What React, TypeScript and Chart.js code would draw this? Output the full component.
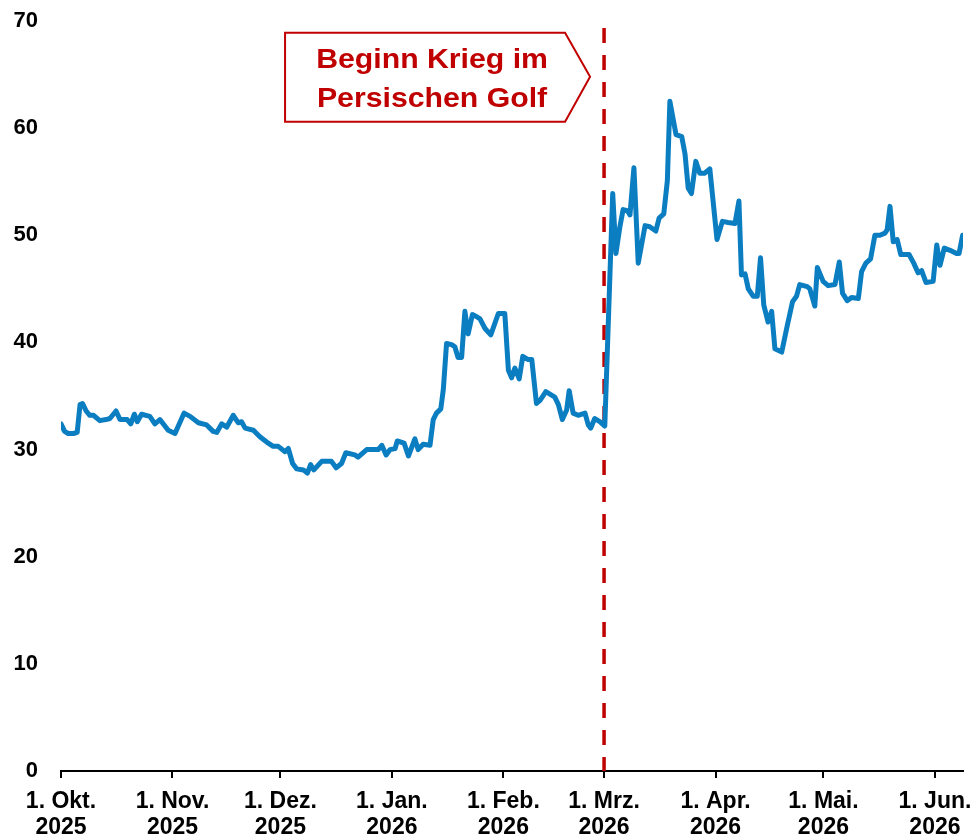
import React, { useEffect, useRef } from "react";
import { Chart, registerables } from "chart.js";

Chart.register(...registerables);

// days since 1 Oct 2025
const days: number[] = [
  0, 1, 2, 3.5, 4.5, 5.3, 6, 7, 8, 9, 10.8, 12.5, 13.6, 15.3, 16.4, 18.4, 19.4, 20.4, 21.2, 22.4,
  24.7, 26.1, 27.5, 29.8, 31.7, 34.2, 35.9, 38.2, 40.5, 42.3, 43.3, 44.7, 46.1, 47.9, 49.3, 50.2,
  51.2, 53.5, 55.3, 57.2, 59.0, 60.4, 62.3, 63.2, 64.4, 65.5, 67.4, 68.5, 69.4, 70.3, 72.5, 75.2,
  76.5, 78.0, 79.2, 81.7, 82.6, 85.0, 88.2, 89.2, 90.4, 91.5, 92.9, 93.5, 95.4, 96.6, 98.4, 99.3,
  100.7, 102.6, 103.5, 104.4, 105.6, 106.3, 107.2, 108.6, 109.5, 110.4, 111.4, 112.3, 113.2, 114.4,
  115.6, 116.5, 117.9, 119.5, 121.6, 123.4, 124.4, 125.3, 126.2, 127.4, 128.4, 129.9, 130.9, 132.2,
  133.2, 134.8, 137.3, 138.3, 139.4, 140.6, 141.3, 142.4, 143.8, 145.7, 146.6, 147.3, 148.4, 149.8,
  151.2, 153.4, 154.3, 155.4, 156.3, 157.5, 158.2, 159.3, 160.5, 162.4, 163.7, 165.4, 166.3, 167.6,
  168.6, 169.3, 171.0, 172.6, 173.5, 174.4, 175.3, 176.5, 177.6, 179.0, 180.4, 182.4, 183.9, 185.5,
  187.4, 188.5, 189.2, 190.2, 191.1, 192.5, 193.6, 194.5, 195.4, 196.6, 197.6, 198.5, 200.4, 201.9,
  203.4, 204.5, 205.4, 207.5, 208.2, 209.6, 210.3, 211.9, 213.3, 215.2, 216.4, 217.3, 218.6, 219.8,
  221.7, 222.6, 223.8, 225.1, 226.3, 227.7, 229.1, 229.7, 230.5, 231.4, 232.5, 233.5, 235.8, 237.1,
  238.3, 239.3, 240.5, 242.5, 243.5, 244.4, 245.6, 247.2, 249.0, 249.7, 250.7,
];

const values: number[] = [
  32.4, 31.7, 31.5, 31.5, 31.6, 34.2, 34.3, 33.6, 33.2, 33.2, 32.7, 32.8, 32.9, 33.6, 32.8, 32.8, 32.4, 33.3, 32.6, 33.3,
  33.1, 32.4, 32.8, 31.8, 31.5, 33.4, 33.1, 32.5, 32.3, 31.7, 31.6, 32.4, 32.1, 33.2, 32.5, 32.6,
  32.0, 31.8, 31.2, 30.7, 30.3, 30.3, 29.8, 30.1, 28.7, 28.2, 28.1, 27.8, 28.6, 28.1, 28.9, 28.9,
  28.3, 28.7, 29.7, 29.5, 29.3, 30.0, 30.0, 30.4, 29.5, 30.0, 30.1, 30.8, 30.6, 29.4, 31.0, 30.0,
  30.5, 30.4, 32.8, 33.4, 33.8, 35.6, 39.9, 39.8, 39.6, 38.6, 38.6, 42.9, 40.8, 42.6,
  42.4, 42.2, 41.3, 40.7, 42.7, 42.7, 37.4, 36.7, 37.6, 36.6, 38.7, 38.4, 38.4, 34.3,
  34.6, 35.4, 34.9, 34.2, 32.8, 33.7, 35.5, 33.4, 33.2, 33.4, 32.3, 32.0, 32.9, 32.6,
  32.2, 53.9, 48.3, 50.8, 52.4, 52.3, 51.9, 56.3, 47.4, 50.9, 50.8, 50.4, 51.6, 52.0,
  55.1, 62.5, 59.4, 59.2, 57.6, 54.4, 53.9, 56.9, 55.8, 55.8, 56.2, 49.6, 51.3, 51.2,
  51.1, 53.2, 46.3, 46.4, 45.0, 44.3, 44.3, 47.9, 43.5, 41.9, 42.9, 39.4, 39.1, 41.5,
  43.8, 44.3, 45.4, 45.2, 45.0, 43.4, 47.0, 45.7, 45.3, 45.4, 47.5, 44.6, 43.9, 44.2,
  44.1, 46.6, 47.4, 47.8, 50.0, 50.0, 50.2, 50.5, 52.7, 49.4, 49.6, 48.2, 48.2, 47.4,
  46.5, 46.7, 45.6, 45.7, 49.1, 47.2, 48.8, 48.6, 48.3, 48.3, 50.0,
];

// month-start tick positions (days since 1 Oct 2025) and labels
const tickDays: number[] = [0, 31, 61, 92, 123, 151, 182, 212, 243];
const tickLabels: string[][] = [
  ["1. Okt.", "2025"],
  ["1. Nov.", "2025"],
  ["1. Dez.", "2025"],
  ["1. Jan.", "2026"],
  ["1. Feb.", "2026"],
  ["1. Mrz.", "2026"],
  ["1. Apr.", "2026"],
  ["1. Mai.", "2026"],
  ["1. Jun.", "2026"],
];
const yTicks: number[] = [0, 10, 20, 30, 40, 50, 60, 70];
const warDay = 151;
const annotationLines: string[] = ["Beginn Krieg im", "Persischen Golf"];

const FONT = "'Liberation Sans', Arial, Helvetica, sans-serif";
const RED = "#C00000";
const BLUE = "#0B7DC1";

const overlayPlugin = {
  id: "overlay",
  beforeDatasetsDraw(chart: any) {
    const { ctx, chartArea, scales } = chart;
    const x = scales.x.getPixelForValue(warDay);
    ctx.save();
    ctx.strokeStyle = RED;
    ctx.lineWidth = 3.5;
    ctx.setLineDash([15, 12]);
    ctx.beginPath();
    ctx.moveTo(x, chartArea.top + 7);
    ctx.lineTo(x, chartArea.bottom);
    ctx.stroke();
    ctx.restore();
  },
  afterDatasetsDraw(chart: any) {
    const { ctx, scales } = chart;
    const xs = scales.x;
    const ys = scales.y;
    const tipX = xs.getPixelForValue(warDay) - 14;
    const tipY = ys.getPixelForValue(64.8);
    const top = ys.getPixelForValue(68.9);
    const bottom = ys.getPixelForValue(60.6);
    const left = xs.getPixelForValue(62.3);
    const rectRight = tipX - 25;
    ctx.save();
    ctx.fillStyle = "#ffffff";
    ctx.strokeStyle = RED;
    ctx.lineWidth = 2;
    ctx.setLineDash([]);
    ctx.beginPath();
    ctx.moveTo(left, top);
    ctx.lineTo(rectRight, top);
    ctx.lineTo(tipX, tipY);
    ctx.lineTo(rectRight, bottom);
    ctx.lineTo(left, bottom);
    ctx.closePath();
    ctx.fill();
    ctx.stroke();
    ctx.fillStyle = RED;
    ctx.font = `bold 27px ${FONT}`;
    ctx.textAlign = "center";
    ctx.textBaseline = "alphabetic";
    const cx = (left + rectRight) / 2 + 7;
    const lineOffsets = [35, 74];
    annotationLines.forEach((line, i) => {
      ctx.save();
      ctx.translate(cx, top + lineOffsets[i]);
      ctx.scale(1.12, 1);
      ctx.fillText(line, 0, 0);
      ctx.restore();
    });
    ctx.restore();
  },
};

export default function App() {
  const canvasRef = useRef<HTMLCanvasElement | null>(null);

  useEffect(() => {
    const canvas = canvasRef.current;
    if (!canvas) return;
    const chart = new Chart(canvas, {
      type: "line",
      data: {
        datasets: [
          {
            data: days.map((d, i) => ({ x: d, y: values[i] })),
            borderColor: BLUE,
            borderWidth: 5,
            pointRadius: 0,
            tension: 0,
            fill: false,
            borderJoinStyle: "round",
            borderCapStyle: "round",
          },
        ],
      },
      options: {
        animation: false,
        responsive: false,
        maintainAspectRatio: false,
        layout: { padding: { top: 21, right: 14, left: 0, bottom: 0 } },
        plugins: {
          legend: { display: false },
          tooltip: { enabled: false },
        },
        scales: {
          x: {
            type: "linear",
            min: 0,
            max: 250.8,
            afterBuildTicks: (scale: any) => {
              scale.ticks = tickDays.map((v) => ({ value: v }));
            },
            afterFit: (scale: any) => {
              scale.height = 69;
              scale.paddingLeft = 0;
              scale.paddingRight = 0;
              scale.paddingTop = 0;
              scale.paddingBottom = 0;
            },
            ticks: {
              autoSkip: false,
              maxRotation: 0,
              minRotation: 0,
              padding: 10,
              color: "#000",
              font: { family: FONT, size: 23, weight: "bold", lineHeight: 1.15 },
              callback: (value: any) => {
                const i = tickDays.indexOf(Number(value));
                return i >= 0 ? tickLabels[i] : "";
              },
            },
            grid: {
              display: true,
              drawOnChartArea: false,
              drawTicks: true,
              tickLength: 7,
              color: "#000",
              lineWidth: 2,
            },
            border: { display: true, color: "#000", width: 2 },
          },
          y: {
            type: "linear",
            min: 0,
            max: 70,
            afterBuildTicks: (scale: any) => {
              scale.ticks = yTicks.map((v) => ({ value: v }));
            },
            afterFit: (scale: any) => {
              scale.width = 61;
              scale.paddingLeft = 0;
              scale.paddingRight = 0;
              scale.paddingTop = 0;
              scale.paddingBottom = 0;
            },
            ticks: {
              padding: 23,
              color: "#000",
              font: { family: FONT, size: 22, weight: "bold" },
            },
            grid: { display: false, drawTicks: false },
            border: { display: false },
          },
        },
      },
      plugins: [overlayPlugin],
    } as any);
    return () => chart.destroy();
  }, []);

  return (
    <div style={{ position: "fixed", left: 0, top: 0, width: 977, height: 840, background: "#fff" }}>
      <canvas ref={canvasRef} width={977} height={840} style={{ width: 977, height: 840, display: "block" }} />
    </div>
  );
}
